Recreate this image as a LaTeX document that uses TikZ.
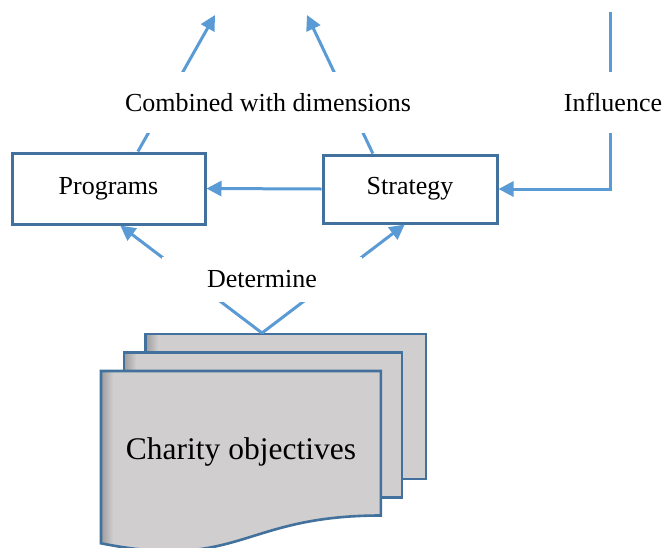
\documentclass[tikz,border=0pt]{standalone}
\usepackage{fontspec}
\setmainfont{Liberation Serif}
\usetikzlibrary{calc,arrows.meta}
\definecolor{linkblue}{HTML}{5B9BD5}
\definecolor{boxblue}{HTML}{41719C}
\definecolor{docgray}{HTML}{D0CECE}
\definecolor{docdark}{HTML}{9E9C9C}
\pgfdeclarehorizontalshading{docedge}{100bp}{color(0bp)=(docdark); color(25bp)=(docdark); color(27.2bp)=(docgray); color(100bp)=(docgray)}
\begin{document}
\begin{tikzpicture}[x=1pt,y=-1pt,
  box/.style={draw=boxblue,line width=3pt,fill=white,font=\fontsize{26}{30}\selectfont},
  link/.style={draw=linkblue,line width=3pt,-{Triangle[length=15pt,width=15pt]}},
  lbl/.style={fill=white,inner xsep=2pt,font=\fontsize{26}{30}\selectfont},
  doc/.style={draw=boxblue,line width=2.6pt,shading=docedge}]
\useasboundingbox (0,0) rectangle (667,547);
% stacked documents
\foreach \xa/\ya/\xb/\yb in {145.7/334/426.1/478.9,124.1/352.3/402/497.7}{\shadedraw[doc] (\xa,\ya) rectangle (\xb,\yb);}
\shadedraw[doc] (101,371) -- (380.9,371) -- (380.9,515.5) .. controls (240.9,515.5) and (240.9,571.1) .. (101,543.3) -- cycle;
\node[font=\fontsize{31.5}{36}\selectfont] (obj) at (241,452) {Charity objectives};
\coordinate (objtop) at (262,333);
% boxes
\node[box,minimum width=193,minimum height=71] (prog) at (108.5,188.5) {Programs};
\node[box,minimum width=174,minimum height=68] (strat) at (410,189) {Strategy};
\coordinate (tipA) at (215,15); \coordinate (tipB) at (307,15); \coordinate (inftop) at (610,12);
% connectors
\draw[link] (strat.west) -- (prog.east);
\draw[link] (inftop) |- (strat.east);
\draw[link] ($(prog.north west)!0.65!(prog.north east)$) -- (tipA);
\draw[link] ($(strat.north west)!0.29!(strat.north east)$) -- (tipB);
\draw[link] (objtop) -- ($(prog.south west)!0.56!(prog.south east)$);
\draw[link] (objtop) -- ($(strat.south west)!0.47!(strat.south east)$);
% labels over the lines
\node[lbl,minimum height=61] (combo) at (268,102.5) {Combined with dimensions};
\node[lbl,minimum height=61] (infl) at (613,102.5) {Influence};
\node[lbl,minimum width=200,minimum height=45] (determ) at (262,279.5) {Determine};
\end{tikzpicture}
\end{document}
